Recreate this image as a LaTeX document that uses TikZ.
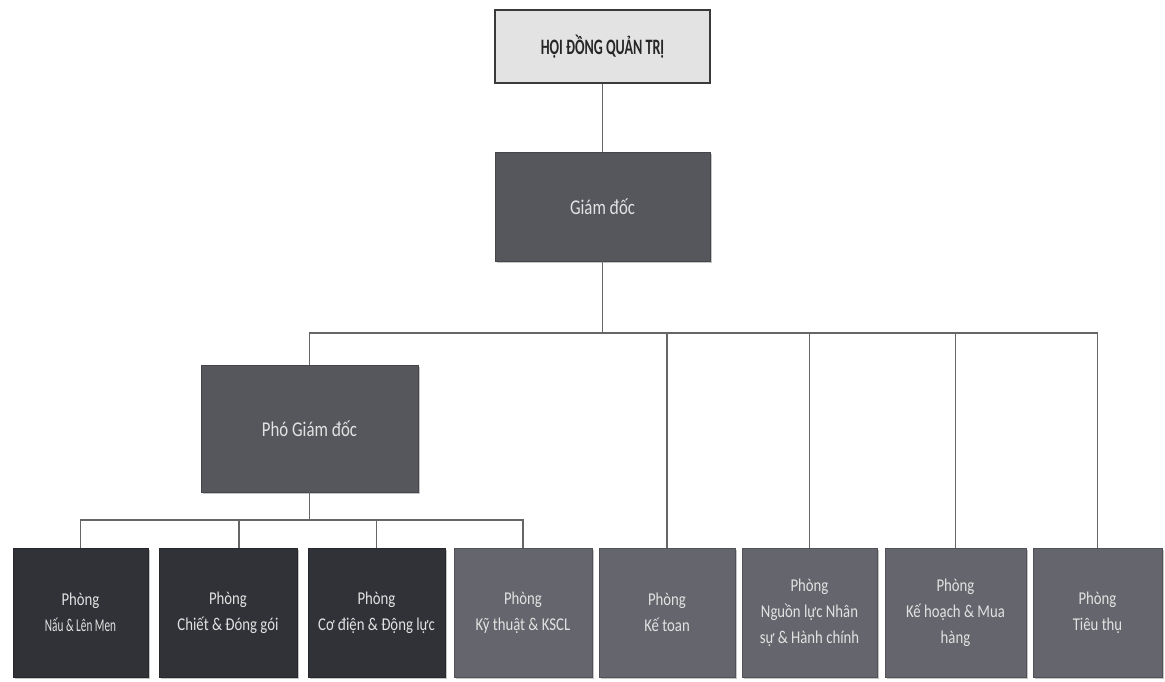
\documentclass[tikz,border=0pt]{standalone}
\usepackage{fontspec}
\usepackage{graphicx}
\usetikzlibrary{calc,shadows}
\newfontfamily\ctop[FakeStretch=0.64]{Carlito}
\newfontfamily\cmid[FakeStretch=0.8]{Carlito}
\newfontfamily\cbot[FakeStretch=0.82]{Carlito}
\definecolor{topfill}{HTML}{E3E3E3}
\definecolor{topdraw}{HTML}{3A3A3A}
\definecolor{midfill}{HTML}{56575D}
\definecolor{darkfill}{HTML}{303237}
\definecolor{lightfill}{HTML}{65666D}
\definecolor{boxtext}{HTML}{E2E2E2}
\definecolor{connc}{HTML}{666666}
\tikzset{
  conn/.style={draw=connc, line width=1.3pt},
  basebox/.style={rectangle, inner sep=2pt, align=center, text=boxtext,
    drop shadow={shadow xshift=1.5pt, shadow yshift=-1.5pt, opacity=0.45}},
  topbox/.style={rectangle, draw=topdraw, line width=1.6pt, fill=topfill,
    minimum width=215pt, minimum height=73pt, text=black!85,
    font=\ctop\bfseries\fontsize{22}{26}\selectfont},
  midbox/.style={basebox, fill=midfill, draw=midfill!80!black, line width=0.8pt,
    font=\cmid\fontsize{21}{25}\selectfont},
  darkbox/.style={basebox, fill=darkfill, draw=darkfill!80!black, line width=0.8pt,
    minimum height=129pt, font=\cbot\fontsize{18}{26}\selectfont},
  lightbox/.style={basebox, fill=lightfill, draw=lightfill!80!black, line width=0.8pt,
    minimum height=129pt, font=\cbot\fontsize{18}{26}\selectfont},
}
\begin{document}
\begin{tikzpicture}[x=1pt, y=-1pt]
\path[use as bounding box, fill=white] (0,0) rectangle (1165,681);

\node[topbox] (hdqt) at (602.5,46.5) {HỘI ĐỒNG QUẢN TRỊ};
\node[midbox, minimum width=215pt, minimum height=109pt] (gd) at (602.5,206.5) {Giám đốc};
\node[midbox, minimum width=217pt, minimum height=127pt] (pgd) at (309.5,428.5) {Phó Giám đốc};

\node[darkbox, minimum width=135pt] (b1) at (80.5,612.5) {Phòng\\\scalebox{0.76}[1]{Nấu \& Lên Men}};
\node[darkbox, minimum width=138pt] (b2) at (228,612.5) {Phòng\\Chiết \& Đóng gói};
\node[darkbox, minimum width=137pt] (b3) at (376.5,612.5) {Phòng\\Cơ điện \& Động lực};
\node[lightbox, minimum width=138pt] (b4) at (523,612.5) {Phòng\\Kỹ thuật \& KSCL};
\node[lightbox, minimum width=136pt] (b5) at (667,612.5) {Phòng\\Kế toan};
\node[lightbox, minimum width=135pt] (b6) at (809.5,612.5) {Phòng\\Nguồn lực Nhân\\sự \& Hành chính};
\node[lightbox, minimum width=141pt] (b7) at (955.5,612.5) {Phòng\\Kế hoạch \& Mua\\hàng};
\node[lightbox, minimum width=129pt] (b8) at (1097.5,612.5) {Phòng\\Tiêu thụ};

\coordinate (bus) at (0,333);
\coordinate (sub) at (0,520);
\coordinate (b2in) at ($(b2.north)+(11,0)$);

\draw[conn] (hdqt.south) -- (gd.north);
\draw[conn] (gd.south) -- (gd.south |- bus);
\draw[conn] (pgd.north) |- (b8.north |- bus) -- (b8.north);
\draw[conn] (b5.north) -- (b5.north |- bus);
\draw[conn] (b6.north) -- (b6.north |- bus);
\draw[conn] (b7.north) -- (b7.north |- bus);

\draw[conn] (pgd.south) -- (pgd.south |- sub);
\draw[conn] (b1.north) |- (b4.north |- sub) -- (b4.north);
\draw[conn] (b2in) -- (b2in |- sub);
\draw[conn] (b3.north) -- (b3.north |- sub);
\end{tikzpicture}
\end{document}
